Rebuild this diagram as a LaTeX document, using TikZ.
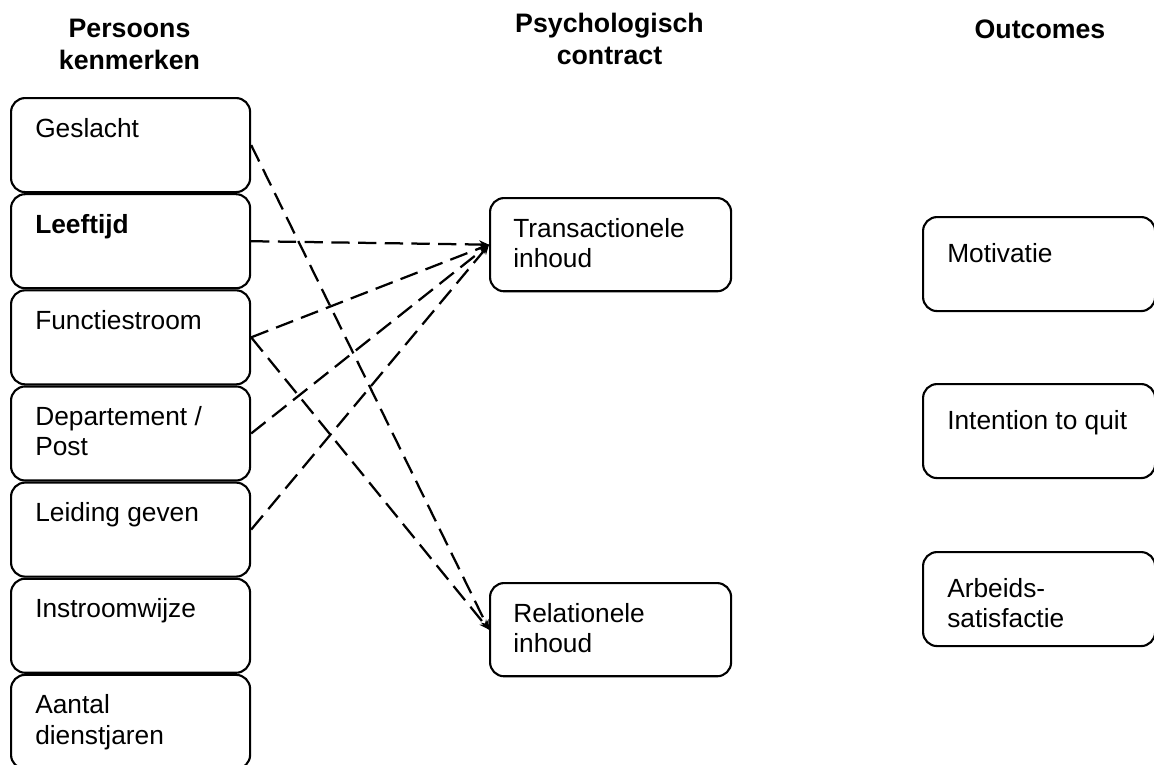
\documentclass[tikz,border=0pt]{standalone}
\usepackage{fontspec}
\setmainfont{Liberation Sans}
\usetikzlibrary{arrows.meta,shapes,positioning}
\newcommand{\boxfont}{\fontsize{18.7}{21.5}\selectfont}
\newcommand{\headfont}{\fontsize{19}{22.5}\selectfont\bfseries}
\tikzset{
  kbox/.style={draw, rectangle, rounded corners=10pt, line width=1.5pt, inner sep=0pt, anchor=north west},
  kenmerk/.style={kbox, minimum width=5.975cm, minimum height=2.35cm},
  contract/.style={kbox, minimum width=6.025cm, minimum height=2.33cm},
  outcome/.style={kbox, minimum width=5.8cm, minimum height=2.35cm},
  ktext/.style={anchor=north west, inner sep=0pt, align=left, xshift=0.625cm, yshift=-0.52cm, font=\boxfont},
  otext/.style={ktext, yshift=-0.15cm},
  head/.style={anchor=north, inner sep=0pt, align=center, font=\headfont},
  conn/.style={-{Stealth[length=7pt,width=6pt]}, line width=1.6pt, dash pattern=on 13pt off 6pt}
}
\begin{document}
\begin{tikzpicture}[x=0.025cm, y=-0.025cm]
        \useasboundingbox (0,0) rectangle (1154,764);
        % Column headers
        \node[head] (hpersoon) at (129.5,19) {Persoons\\kenmerken};
        \node[head] (hcontract) at (609.5,13) {Psychologisch\\contract};
        \node[head] (houtcome) at (1040,20) {Outcomes};

        % Person characteristics, stacked
        \node[kenmerk, label={[ktext]north west:Geslacht}] (geslacht) at (10,97) {};
        \node[kenmerk, below=0pt of geslacht, label={[ktext, font=\boxfont\bfseries]north west:Leeftijd}] (leeftijd) {};
        \node[kenmerk, below=0pt of leeftijd, label={[ktext]north west:Functiestroom}] (functie) {};
        \node[kenmerk, below=0pt of functie, label={[ktext]north west:Departement /\\Post}] (departement) {};
        \node[kenmerk, below=0pt of departement, label={[ktext]north west:Leiding geven}] (leiding) {};
        \node[kenmerk, below=0pt of leiding, label={[ktext]north west:Instroomwijze}] (instroom) {};
        \node[kenmerk, below=0pt of instroom, label={[ktext]north west:Aantal\\dienstjaren}] (dienstjaren) {};

        % Psychological contract
        \node[contract, label={[ktext, xshift=-0.025cm]north west:Transactionele\\inhoud}] (transactioneel) at (489,197) {};
        \node[contract, label={[ktext, xshift=-0.025cm]north west:Relationele\\inhoud}] (relationeel) at (489,582) {};

        % Outcomes
        \node[outcome, label={[otext]north west:Motivatie}] (motivatie) at (922,216) {};
        \node[outcome, label={[otext]north west:Intention to quit}] (quit) at (922,383) {};
        \node[outcome, label={[otext]north west:Arbeids-\\satisfactie}] (satisfactie) at (922,551) {};

        % Dashed relations
        \draw[conn] (leeftijd.east) -- (transactioneel.west);
        \draw[conn] (functie.east) -- (transactioneel.west);
        \draw[conn] (departement.east) -- (transactioneel.west);
        \draw[conn] (leiding.east) -- (transactioneel.west);
        \draw[conn] (geslacht.east) -- (relationeel.west);
        \draw[conn] (functie.east) -- (relationeel.west);
    \end{tikzpicture}
\end{document}
